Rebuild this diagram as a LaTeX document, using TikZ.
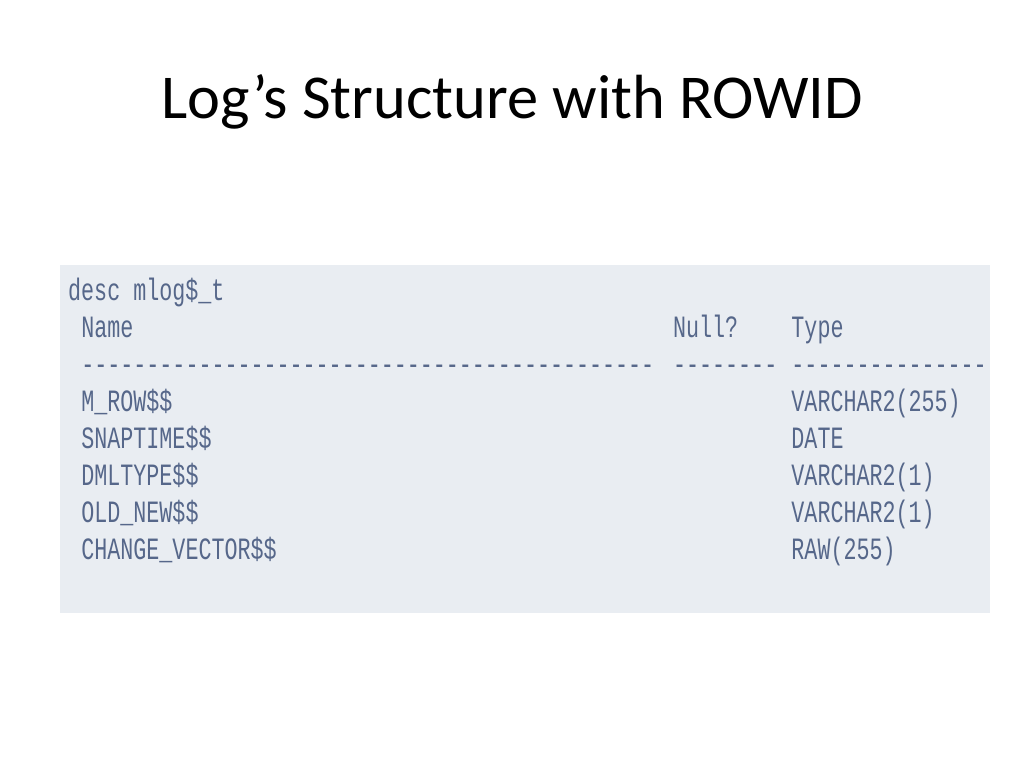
\documentclass[tikz,border=0pt]{standalone}
\usepackage{fontspec}
\setmainfont{Carlito}
\newfontfamily\codefont[FakeStretch=0.70,Ligatures=TeXOff]{Liberation Mono}
\usetikzlibrary{positioning}
\definecolor{codebg}{HTML}{E9EDF2}
\definecolor{codeink}{HTML}{56678A}
\def\codebox{(60,265) rectangle (990,613)}
\def\colname{81.15}
\def\colnull{672.9}
\def\coltype{791.25}
\tikzset{
  code/.style={anchor=base west, inner sep=0pt, text=codeink,
    font=\codefont\fontsize{31}{31}\selectfont},
  heading/.style={anchor=base, inner sep=0pt, font=\fontsize{62.4}{62.4}\selectfont}
}

\begin{document}
\begin{tikzpicture}[x=1pt,y=-1pt]
  \useasboundingbox[fill=white] (0,0) rectangle (1024,768);
  \node[heading] (title) at (512,118) {Log’s Structure with ROWID};
  \fill[codebg] \codebox;
  \begin{scope}
    \clip \codebox;
    \node[code] (cmd) at (68,300) {desc mlog\$\_t};
    \node[code] (hname) at (\colname,337) {Name};
    \node[code] (hnull) at (\colnull,337) {Null?};
    \node[code] (htype) at (\coltype,337) {Type};
    \node[code] (rname) at (\colname,374) {--------------------------------------------};
    \node[code] (rnull) at (\colnull,374) {--------};
    \node[code] (rtype) at (\coltype,374) {---------------};
    \foreach \n/\t [count=\i] in {M\_ROW\$\$/VARCHAR2(255), SNAPTIME\$\$/DATE,
        DMLTYPE\$\$/VARCHAR2(1), OLD\_NEW\$\$/VARCHAR2(1), CHANGE\_VECTOR\$\$/RAW(255)}
    {
      \node[code] (name\i) at (\colname,374+37*\i) {\n};
      \node[code] (type\i) at (\coltype,374+37*\i) {\t};
    }
  \end{scope}
\end{tikzpicture}
\end{document}
